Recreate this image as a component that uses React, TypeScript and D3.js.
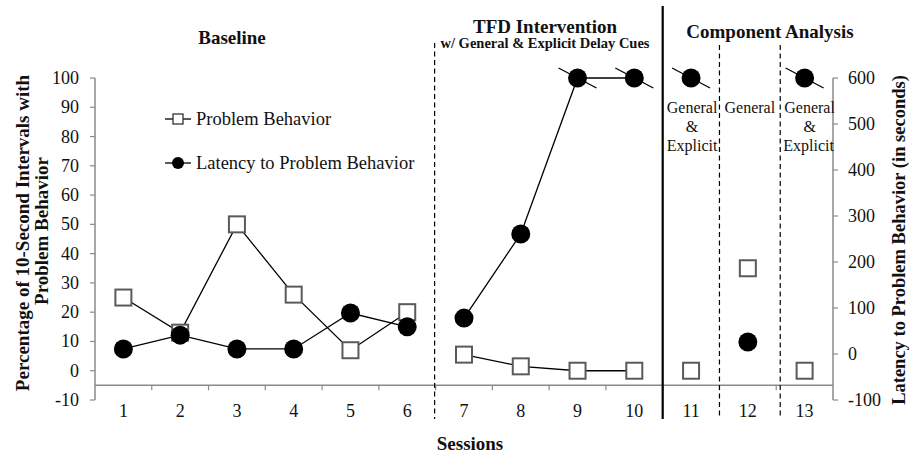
import React from "react";
import * as d3 from "d3";

const sessions = [1, 2, 3, 4, 5, 6, 7, 8, 9, 10, 11, 12, 13];
const problemBehavior = [25, 13, 50, 26, 7, 20, 5.5, 1.5, 0, 0, 0, 35, 0];
const latency = [11, 41, 11, 11, 89, 59, 78, 261, 600, 600, 600, 26, 600];
const phaseOf = [0, 0, 0, 0, 0, 0, 1, 1, 1, 1, 2, 3, 4];
const leftTicks = [-10, 0, 10, 20, 30, 40, 50, 60, 70, 80, 90, 100];
const rightTicks = [-100, 0, 100, 200, 300, 400, 500, 600];
const ceilingValue = 600;

const FONT = "'Liberation Serif', 'Times New Roman', serif";
const W = 912;
const H = 454;

export default function App() {
  const x = d3
    .scaleBand<string>()
    .domain(sessions.map(String))
    .range([95, 833])
    .padding(0);
  const cx = (s: number) => (x(String(s)) as number) + x.bandwidth() / 2;
  const yL = d3.scaleLinear().domain([-10, 100]).range([400, 78]);
  const yR = d3.scaleLinear().domain([-100, 600]).range([400, 78]);
  const axisY = yL(-5);

  const segments = (vals: number[], yS: (v: number) => number) => {
    const groups: [number, number][][] = [];
    let cur: [number, number][] = [];
    let lastPhase = -1;
    sessions.forEach((s, i) => {
      if (phaseOf[i] !== lastPhase) {
        if (cur.length) groups.push(cur);
        cur = [];
        lastPhase = phaseOf[i];
      }
      cur.push([cx(s), yS(vals[i])]);
    });
    if (cur.length) groups.push(cur);
    return groups.filter((g) => g.length > 1);
  };
  const line = d3.line();
  const pbSegs = segments(problemBehavior, yL);
  const latSegs = segments(latency, yR);

  const boundary = (s: number) => x(String(s)) as number;
  const gray = "#8a8a8a";

  return (
    <svg
      width={W}
      height={H}
      style={{ position: "absolute", left: 0, top: 0, background: "#fff" }}
      fontFamily={FONT}
    >
      <defs>
        <filter id="soft" x="-50%" y="-50%" width="200%" height="200%">
          <feGaussianBlur stdDeviation="0.6" />
        </filter>
      </defs>
      <rect width={W} height={H} fill="#fff" />

      {/* left axis */}
      <line x1={95} x2={95} y1={yL(100)} y2={yL(-10)} stroke={gray} strokeWidth={1.5} />
      {leftTicks.map((t) => (
        <g key={"l" + t}>
          <line x1={90} x2={95} y1={yL(t)} y2={yL(t)} stroke={gray} strokeWidth={1.2} />
          <text x={79} y={yL(t) + 6} textAnchor="end" fontSize={18} fill="#111">
            {t}
          </text>
        </g>
      ))}

      {/* right axis */}
      <line x1={833} x2={833} y1={yR(600)} y2={yR(-100)} stroke={gray} strokeWidth={1.5} />
      {rightTicks.map((t) => (
        <g key={"r" + t}>
          <line x1={833} x2={838} y1={yR(t)} y2={yR(t)} stroke={gray} strokeWidth={1.2} />
          <text x={848} y={yR(t) + 6} textAnchor="start" fontSize={18} fill="#111">
            {t}
          </text>
        </g>
      ))}

      {/* x axis */}
      <line x1={95} x2={833} y1={axisY} y2={axisY} stroke={gray} strokeWidth={1.5} />
      {sessions.slice(1).map((s) => (
        <line
          key={"xt" + s}
          x1={boundary(s)}
          x2={boundary(s)}
          y1={axisY}
          y2={axisY + 5}
          stroke={gray}
          strokeWidth={1.2}
        />
      ))}
      {sessions.map((s) => (
        <text key={"xl" + s} x={cx(s)} y={417} textAnchor="middle" fontSize={18} fill="#111">
          {s}
        </text>
      ))}

      {/* phase lines */}
      <line x1={boundary(7) - 1} x2={boundary(7) - 1} y1={43} y2={419} stroke="#000" strokeWidth={1.2} strokeDasharray="5,3.5" />
      <line x1={boundary(11)} x2={boundary(11)} y1={6} y2={419} stroke="#000" strokeWidth={2.2} />
      <line x1={boundary(12)} x2={boundary(12)} y1={45} y2={419} stroke="#000" strokeWidth={1.2} strokeDasharray="5,3.5" />
      <line x1={boundary(13) + 4} x2={boundary(13) + 4} y1={45} y2={419} stroke="#000" strokeWidth={1.2} strokeDasharray="5,3.5" />

      {/* phase titles */}
      <text x={232} y={44} textAnchor="middle" fontSize={19} fontWeight="bold" fill="#111">
        Baseline
      </text>
      <text x={545} y={33} textAnchor="middle" fontSize={19} fontWeight="bold" fill="#111">
        TFD Intervention
      </text>
      <text x={545} y={48} textAnchor="middle" fontSize={14.5} fontWeight="bold" fill="#111">
        w/ General &amp; Explicit Delay Cues
      </text>
      <text x={770} y={38} textAnchor="middle" fontSize={19} fontWeight="bold" fill="#111">
        Component Analysis
      </text>

      {/* component labels */}
      <g fontSize={16} fill="#111" textAnchor="middle">
        <text x={cx(11) + 1} y={113}>General</text>
        <text x={cx(11) + 1} y={132}>&amp;</text>
        <text x={cx(11) + 1} y={151}>Explicit</text>
        <text x={cx(12) + 2} y={113}>General</text>
        <text x={cx(13) + 5} y={113}>General</text>
        <text x={cx(13) + 5} y={132}>&amp;</text>
        <text x={cx(13) + 4} y={151}>Explicit</text>
      </g>

      {/* lines */}
      {pbSegs.map((g, i) => (
        <path key={"pbl" + i} d={line(g) as string} fill="none" stroke="#000" strokeWidth={1.3} />
      ))}
      {latSegs.map((g, i) => (
        <path key={"latl" + i} d={line(g) as string} fill="none" stroke="#000" strokeWidth={1.3} />
      ))}

      {/* problem behavior markers */}
      {sessions.map((s, i) => (
        <rect
          key={"pb" + s}
          x={cx(s) - 8}
          y={yL(problemBehavior[i]) - 8}
          width={16}
          height={16}
          fill="#fff"
          stroke="#5a5a5a"
          strokeWidth={2}
          filter="url(#soft)"
        />
      ))}

      {/* latency markers */}
      {sessions.map((s, i) => (
        <g key={"lat" + s}>
          <circle cx={cx(s)} cy={yR(latency[i])} r={9.5} fill="#000" filter="url(#soft)" />
          {latency[i] >= ceilingValue && (
            <line
              x1={cx(s) - 19}
              y1={yR(latency[i]) - 10}
              x2={cx(s) + 19}
              y2={yR(latency[i]) + 10}
              stroke="#000"
              strokeWidth={1.3}
            />
          )}
        </g>
      ))}

      {/* legend */}
      <line x1={165} x2={191} y1={119} y2={119} stroke="#000" strokeWidth={1.3} />
      <rect x={173} y={114} width={10} height={10} fill="#fff" stroke="#333" strokeWidth={1.3} />
      <text x={196} y={125} fontSize={18.5} fill="#111">Problem Behavior</text>
      <line x1={165} x2={191} y1={163} y2={163} stroke="#000" strokeWidth={1.3} />
      <circle cx={178} cy={163} r={6} fill="#000" />
      <text x={196} y={169} fontSize={18.5} fill="#111">Latency to Problem Behavior</text>

      {/* axis titles */}
      <text
        transform={`translate(29,233) rotate(-90)`}
        textAnchor="middle"
        fontSize={19}
        fontWeight="bold"
        fill="#111"
      >
        Percentage of 10-Second Intervals with
      </text>
      <text
        transform={`translate(48,231) rotate(-90)`}
        textAnchor="middle"
        fontSize={19}
        fontWeight="bold"
        fill="#111"
      >
        Problem Behavior
      </text>
      <text
        transform={`translate(905,240) rotate(-90)`}
        textAnchor="middle"
        fontSize={18.5}
        fontWeight="bold"
        fill="#111"
      >
        Latency to Problem Behavior (in seconds)
      </text>
      <text x={470} y={450} textAnchor="middle" fontSize={19} fontWeight="bold" fill="#111">
        Sessions
      </text>
    </svg>
  );
}
